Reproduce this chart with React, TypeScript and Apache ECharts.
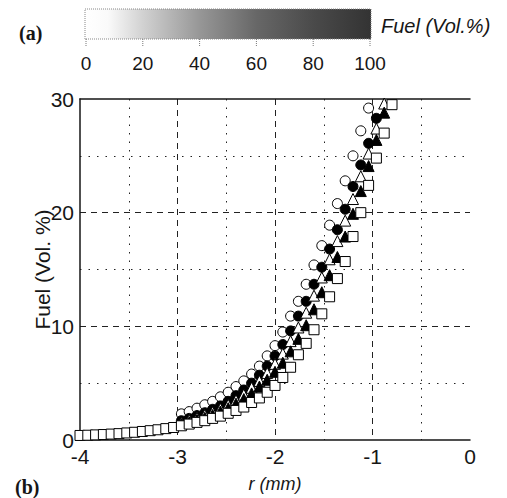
import React, { useEffect, useRef } from 'react';
import * as echarts from 'echarts';

// Radial positions (mm) shared by every profile
const rPositions = [
  -4.0, -3.92, -3.84, -3.76, -3.68, -3.6, -3.52, -3.44, -3.36, -3.28,
  -3.2, -3.12, -3.04, -2.96, -2.88, -2.8, -2.72, -2.64, -2.56, -2.48,
  -2.4, -2.32, -2.24, -2.16, -2.08, -2.0, -1.92, -1.84, -1.76, -1.68,
  -1.6, -1.52, -1.44, -1.36, -1.28, -1.2, -1.12, -1.04, -0.96, -0.88, -0.8,
];

// Fuel concentration (Vol. %) for each profile; each list starts at the given index of rPositions
const openCircleStart = 13;
const openCircle = [
  2.3, 2.5, 2.8, 3.1, 3.4, 3.8, 4.2, 4.7, 5.2, 5.8, 6.5, 7.4, 8.3, 9.5,
  10.9, 12.2, 13.7, 15.4, 17.1, 18.9, 20.8, 22.8, 25.0, 27.2, 29.2,
];

const filledCircleStart = 13;
const filledCircle = [
  1.7, 1.9, 2.15, 2.4, 2.7, 3.0, 3.4, 3.9, 4.4, 5.0, 5.7, 6.5, 7.4, 8.4,
  9.6, 10.9, 12.2, 13.7, 15.2, 16.8, 18.5, 20.3, 22.3, 24.2, 26.1, 28.3,
];

const openTriangleStart = 13;
const openTriangle = [
  1.55, 1.75, 1.95, 2.2, 2.45, 2.75, 3.1, 3.5, 4.0, 4.6, 5.2, 5.9, 6.7, 7.6,
  8.7, 9.9, 11.2, 12.7, 14.3, 15.9, 17.5, 19.3, 21.2, 23.2, 25.2, 27.4, 29.6,
];

const filledTriangleStart = 13;
const filledTriangle = [
  1.4, 1.55, 1.75, 1.95, 2.2, 2.5, 2.8, 3.2, 3.6, 4.1, 4.7, 5.3, 6.0, 6.8,
  7.8, 8.9, 10.1, 11.5, 13.0, 14.5, 16.1, 17.9, 19.9, 21.9, 24.1, 26.4, 28.8,
];

const openSquareStart = 0;
const openSquare = [
  0.4, 0.42, 0.45, 0.48, 0.52, 0.56, 0.62, 0.68, 0.75, 0.82, 0.9, 1.0, 1.1,
  1.25, 1.4, 1.55, 1.7, 1.9, 2.1, 2.35, 2.6, 2.9, 3.3, 3.7, 4.2, 4.8, 5.5,
  6.4, 7.5, 8.5, 9.7, 11.1, 12.6, 14.2, 15.7, 17.9, 20.0, 22.4, 24.8, 27.0, 29.5,
];

// Colour scale legend
const colorbarTicks = [0, 20, 40, 60, 80, 100];
const colorbarTitle = 'Fuel (Vol.%)';

const SANS = "'Liberation Sans Narrow', 'Arial Narrow', 'Liberation Sans', Arial, sans-serif";
const SERIF = "'Liberation Serif', 'Times New Roman', serif";
const INK = '#161616';

function pairs(start: number, values: number[]) {
  return values.map((v, i) => [rPositions[start + i], v]);
}

export default function App() {
  const ref = useRef<HTMLDivElement>(null);

  useEffect(() => {
    if (!ref.current) return;
    const chart = echarts.init(ref.current, undefined, { renderer: 'svg' });

    const barX = 85;
    const barY = 9;
    const barW = 286;
    const barH = 30;
    const tickX = (v: number) => barX + 1 + (v / 100) * (barW - 2);

    const graphic: any[] = [
      {
        type: 'rect',
        shape: { x: barX, y: barY, width: barW, height: barH },
        style: {
          fill: new echarts.graphic.LinearGradient(0, 0, 1, 0, [
            { offset: 0, color: '#ffffff' },
            { offset: 0.08, color: '#fafafa' },
            { offset: 0.2, color: '#d2d2d2' },
            { offset: 0.4, color: '#979797' },
            { offset: 0.6, color: '#676767' },
            { offset: 0.8, color: '#4a4a4a' },
            { offset: 1, color: '#333333' },
          ]),
          stroke: '#888',
          lineWidth: 1,
          lineDash: [1, 1],
        },
      },
      ...colorbarTicks.map((v) => ({
        type: 'line',
        shape: { x1: tickX(v), y1: barY + barH, x2: tickX(v), y2: barY + barH + 7 },
        style: { stroke: '#777', lineWidth: 1, lineDash: [1, 1] },
      })),
      ...colorbarTicks.map((v) => ({
        type: 'text',
        x: tickX(v),
        y: 63,
        style: {
          text: String(v),
          fontFamily: SANS,
          fontSize: 19,
          fill: INK,
          align: 'center',
          verticalAlign: 'middle',
        },
      })),
      {
        type: 'text',
        x: 381,
        y: 26,
        style: {
          text: colorbarTitle,
          fontFamily: SANS,
          fontSize: 20,
          fontStyle: 'italic',
          fill: INK,
          align: 'left',
          verticalAlign: 'middle',
        },
      },
      {
        type: 'text',
        x: 19,
        y: 33,
        style: {
          text: '(a)',
          fontFamily: SERIF,
          fontSize: 20,
          fontWeight: 'bold',
          fill: INK,
          align: 'left',
          verticalAlign: 'middle',
        },
      },
      {
        type: 'text',
        x: 15,
        y: 487,
        style: {
          text: '(b)',
          fontFamily: SERIF,
          fontSize: 20,
          fontWeight: 'bold',
          fill: INK,
          align: 'left',
          verticalAlign: 'middle',
        },
      },
    ];

    const markerSeries = [
      { name: 'open circle', data: pairs(openCircleStart, openCircle), symbol: 'circle', size: 10, fill: '#ffffff' },
      { name: 'filled circle', data: pairs(filledCircleStart, filledCircle), symbol: 'circle', size: 10, fill: '#000000' },
      { name: 'open triangle', data: pairs(openTriangleStart, openTriangle), symbol: 'triangle', size: 11, fill: '#ffffff' },
      { name: 'filled triangle', data: pairs(filledTriangleStart, filledTriangle), symbol: 'triangle', size: 11, fill: '#000000' },
      { name: 'open square', data: pairs(openSquareStart, openSquare), symbol: 'rect', size: 10, fill: '#ffffff' },
    ];

    chart.setOption({
      animation: false,
      backgroundColor: '#ffffff',
      grid: { left: 80, right: 37, top: 99, bottom: 58 },
      graphic,
      xAxis: [
        {
          type: 'value',
          min: -4,
          max: 0,
          interval: 1,
          position: 'bottom',
          name: 'r (mm)',
          nameLocation: 'middle',
          nameGap: 35,
          nameMoveOverlap: false,
          nameTextStyle: { fontFamily: SANS, fontSize: 18, fontStyle: 'italic', color: INK },
          axisLine: { onZero: false, lineStyle: { color: INK, width: 1.5 } },
          axisTick: { show: false },
          axisLabel: { color: INK, fontFamily: SANS, fontSize: 21, margin: 6 },
          splitLine: {
            show: true,
            showMinLine: false,
            showMaxLine: false,
            lineStyle: { color: '#222', width: 1, type: [6, 5] },
          },
          minorTick: { show: false, splitNumber: 2 },
          minorSplitLine: { show: true, lineStyle: { color: '#222', width: 1, type: [1.5, 7] } },
        },
        {
          type: 'value',
          min: -4,
          max: 0,
          position: 'top',
          axisLine: { show: true, onZero: false, lineStyle: { color: INK, width: 1.5 } },
          axisTick: { show: false },
          axisLabel: { show: false },
          splitLine: { show: false },
        },
      ],
      yAxis: {
        type: 'value',
        min: 0,
        max: 30,
        interval: 10,
        name: 'Fuel (Vol. %)',
        nameLocation: 'middle',
        nameRotate: 90,
        nameGap: 27,
        nameMoveOverlap: false,
        nameTextStyle: { fontFamily: SANS, fontSize: 21, color: INK },
        axisLine: { show: true, onZero: false, lineStyle: { color: INK, width: 1.5 } },
        axisTick: { show: false },
        axisLabel: { color: INK, fontFamily: SANS, fontSize: 21, margin: 6 },
        splitLine: {
          show: true,
          showMinLine: false,
          showMaxLine: false,
          lineStyle: { color: '#222', width: 1, type: [6, 5] },
        },
        minorTick: { show: false, splitNumber: 2 },
        minorSplitLine: { show: true, lineStyle: { color: '#222', width: 1, type: [1.5, 7] } },
      },
      series: markerSeries.map((s) => ({
        type: 'scatter',
        name: s.name,
        xAxisIndex: 0,
        data: s.data,
        symbol: s.symbol,
        symbolSize: s.size,
        itemStyle: { color: s.fill, borderColor: '#000000', borderWidth: 1, opacity: 1 },
        emphasis: { disabled: true },
      })),
    });

    return () => chart.dispose();
  }, []);

  return (
    <div
      ref={ref}
      style={{ position: 'absolute', left: 0, top: 0, width: 507, height: 498 }}
    />
  );
}
